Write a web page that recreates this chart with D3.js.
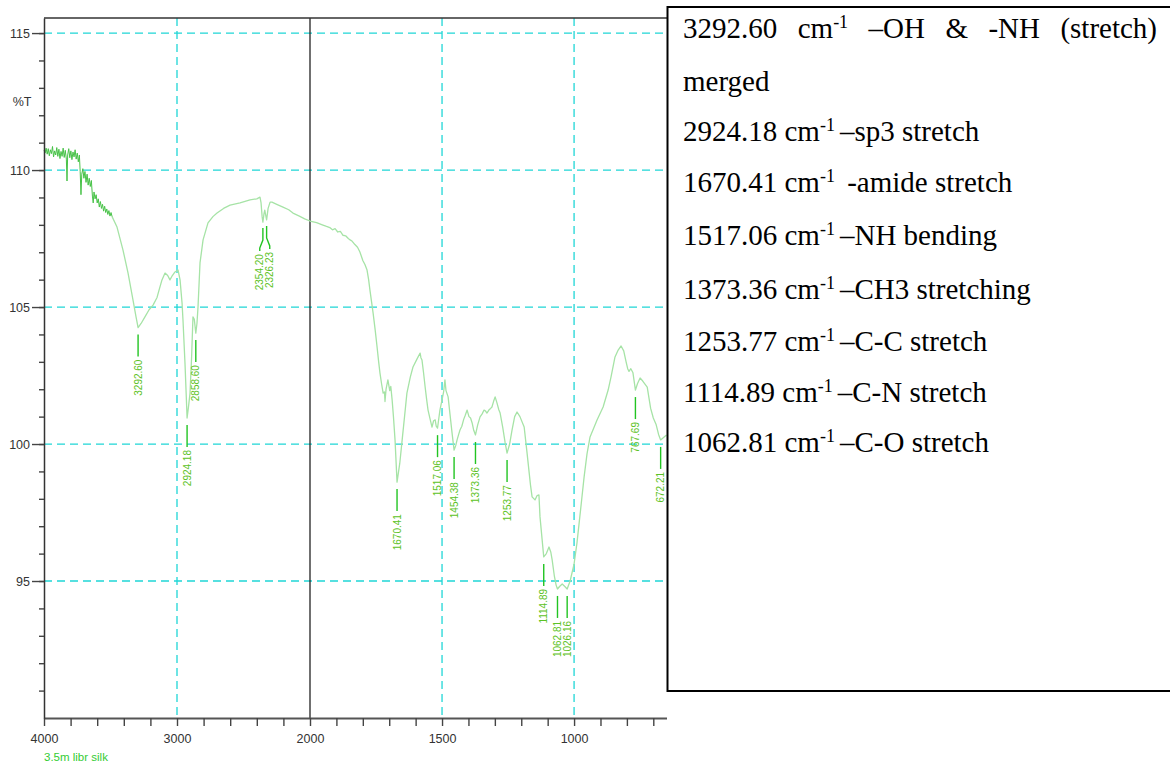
<!DOCTYPE html>
<html>
<head>
<meta charset="utf-8">
<script src="https://cdn.jsdelivr.net/npm/d3@7"></script>
<style>
  html, body { margin: 0; padding: 0; background: #ffffff; }
  svg { display: block; }
</style>
</head>
<body>
<svg id="chart" width="1170" height="766"></svg>
<script>
// ---------------------------------------------------------------
// FTIR spectrum of 3.5m libr silk: %T versus wavenumber (cm-1)
// ---------------------------------------------------------------

// Wavenumber axis: 4000 → 2000 and 2000 → 650 use different scales
const wavenumberBreaks = [4000, 2000, 650];
const transmittanceDomain = [90, 115.55];

const xTickValues = d3.range(4000, 1999, -200).concat(d3.range(1900, 699, -100));
const xTickLabels = [4000, 3000, 2000, 1500, 1000];
const yMajorTicks = [95, 100, 105, 110, 115];
const yMinorTicks = d3.range(91, 116);
const gridWavenumbers = [3000, 1500, 1000];
const gridTransmittance = [95, 100, 105, 110, 115];

// Noisy high-wavenumber region [wavenumber, %T]
const noisyTrace = [
  [4000,110.72],[3992,110.62],[3984,110.80],[3976,110.58],[3968,110.78],[3960,110.52],
  [3952,110.74],[3944,110.60],[3936,110.86],[3928,110.48],[3920,110.70],[3912,110.55],
  [3904,110.82],[3896,110.50],[3888,110.76],[3880,110.42],[3872,110.68],[3864,110.50],
  [3856,110.80],[3848,110.46],[3840,110.72],[3832,110.40],[3827,109.60],[3822,110.55],
  [3814,110.78],[3806,110.45],[3798,110.70],[3790,110.38],[3782,110.66],[3774,110.48],
  [3766,110.74],[3758,110.40],[3750,110.62],[3742,110.30],[3734,110.55],[3728,109.95],
  [3722,109.10],[3716,109.85],[3708,110.05],[3700,109.70],[3692,109.95],[3684,109.55],
  [3676,109.85],[3668,109.45],[3660,109.70],[3652,109.40],[3644,109.62],[3636,109.05],
  [3630,108.80],[3624,109.20],[3616,108.95],[3608,109.10],[3600,108.80],[3592,108.95],
  [3584,108.65],[3576,108.85],[3568,108.60],[3560,108.75],[3552,108.50],[3544,108.68],
  [3536,108.45],[3528,108.58],[3520,108.38],[3512,108.52],[3504,108.32],[3496,108.45],
  [3488,108.30]
];

// Remainder of the spectrum [wavenumber, %T]
const mainTrace = [
  [3488,108.30],[3451,107.92],[3406,107.08],[3368,106.24],[3331,105.26],[3308,104.64],
  [3292.6,104.25],[3270,104.40],[3241,104.64],[3210,104.90],[3180,105.07],[3150,105.35],
  [3135,105.62],[3113,105.99],[3090,106.24],[3070,106.15],[3053,105.99],[3035,106.15],
  [3015,106.28],[2992,106.35],[2977,105.99],[2962,105.15],[2955,104.53],[2940,102.96],
  [2930,101.70],[2924.18,100.95],[2915,101.30],[2902,101.86],[2890,103.20],[2880,104.64],
  [2870,104.55],[2858.6,104.05],[2850,104.40],[2842,105.00],[2827,106.61],[2804,107.45],
  [2767,108.07],[2730,108.30],[2699,108.43],[2650,108.60],[2601,108.72],[2526,108.80],
  [2451,108.91],[2400,108.95],[2376,109.01],[2368,108.80],[2360,108.30],[2354.2,108.10],
  [2346,108.40],[2340,108.54],[2333,108.35],[2326.23,108.18],[2315,108.60],[2300,108.83],
  [2286,108.83],[2250,108.75],[2203,108.65],[2160,108.55],[2128,108.43],[2080,108.32],
  [2040,108.22],[2000,108.14],[1975,108.08],[1951,107.99],[1940,107.95],[1925,107.90],
  [1915,107.82],[1905,107.86],[1895,107.74],[1885,107.76],[1875,107.62],[1865,107.60],
  [1855,107.50],[1848,107.45],[1840,107.40],[1830,107.28],[1820,107.18],[1811,107.01],
  [1800,106.70],[1792,106.55],[1784,106.35],[1778,106.00],[1773,105.62],[1767,105.20],
  [1761,104.78],[1753,104.15],[1746,103.54],[1740,103.00],[1735,102.59],[1729,102.20],
  [1723,101.86],[1718,101.90],[1716,101.55],[1712,102.00],[1705,102.34],[1698,101.95],
  [1694,102.10],[1689,101.61],[1684,101.00],[1678,100.15],[1670.41,98.61],[1660,99.30],
  [1651,100.15],[1642,101.00],[1633,101.86],[1620,102.45],[1610,102.81],[1595,103.10],
  [1583,103.32],[1580,103.15],[1576,103.07],[1570,102.60],[1564,102.08],[1558,101.60],
  [1553,101.24],[1545,100.90],[1538,100.62],[1532,100.85],[1526,100.88],[1522,100.65],
  [1517.06,100.58],[1512,100.95],[1508,101.24],[1500,101.61],[1494,101.90],[1489,102.34],
  [1485,101.95],[1477,101.72],[1470,101.10],[1462,100.40],[1454.38,99.78],[1448,99.95],
  [1443,100.15],[1437,100.35],[1432,100.51],[1425,100.65],[1418,100.90],[1412,101.05],
  [1405,101.24],[1398,101.00],[1392,100.95],[1386,100.77],[1380,100.50],[1373.36,100.33],
  [1365,100.70],[1356,100.99],[1348,101.10],[1341,101.24],[1335,101.20],[1330,101.13],
  [1322,101.25],[1316,101.30],[1311,101.35],[1305,101.55],[1299,101.72],[1292,101.50],
  [1285,101.25],[1280,101.13],[1270,100.60],[1261,100.04],[1253.77,99.67],[1244,100.00],
  [1235,100.51],[1225,101.00],[1216,101.17],[1205,101.00],[1189,100.62],[1178,99.67],
  [1165,98.50],[1159,98.07],[1148,97.96],[1140,98.12],[1133,98.14],[1129,97.34],
  [1118,96.20],[1114.89,95.88],[1105,96.00],[1095,96.24],[1088,96.05],[1083,95.77],
  [1075,95.20],[1068,94.85],[1062.81,94.71],[1055,94.80],[1045,94.89],[1035,94.80],
  [1026.16,94.71],[1015,95.00],[1000,95.62],[989,96.39],[973,97.81],[962,98.80],
  [951,99.64],[939.5,100.26],[913,100.88],[890,101.35],[871,101.97],[860,102.45],
  [845,103.18],[833,103.43],[822,103.58],[812,103.40],[803,103.00],[797,102.75],
  [792,102.65],[785,102.75],[777,102.60],[767.69,101.97],[760,102.20],[750,102.41],
  [740,102.30],[723,102.08],[710,101.30],[700,100.95],[689,100.70],[680,100.35],
  [672.21,100.15],[660,100.25],[650,100.33]
];

// Picked peaks: wavenumber and %T at the band minimum
const peakWavenumbers = [3292.60, 2924.18, 2858.60, 2354.20, 2326.23, 1670.41, 1517.06,
  1454.38, 1373.36, 1253.77, 1114.89, 1062.81, 1026.16, 767.69, 672.21];
const peakTransmittance = [104.25, 100.95, 104.05, 108.10, 108.18, 98.61, 100.58,
  99.78, 100.33, 99.67, 95.88, 94.71, 94.71, 101.97, 100.15];

// Band assignments listed beside the spectrum
const assignments = [
  { wn: "2924.18", text: "–sp3 stretch" },
  { wn: "1670.41", text: " -amide stretch" },
  { wn: "1517.06", text: "–NH bending" },
  { wn: "1373.36", text: "–CH3 stretching" },
  { wn: "1253.77", text: "–C-C stretch" },
  { wn: "1114.89", text: "–C-N stretch" },
  { wn: "1062.81", text: "–C-O stretch" }
];

// ---------------------------------------------------------------
const svg = d3.select("#chart");
const plot = { left: 44, right: 666.5, top: 18, bottom: 718 };

const x = d3.scaleLinear()
  .domain(wavenumberBreaks)
  .range([plot.left, 310, plot.right]);
const y = d3.scaleLinear()
  .domain(transmittanceDomain)
  .range([plot.bottom, plot.top]);

const GRID = "#1fd6d6";
const AXIS = "#444";
const sansFont = "'Liberation Sans', Arial, sans-serif";

// Grid lines
const grid = svg.append("g").attr("stroke", GRID).attr("stroke-width", 1.3)
  .attr("stroke-dasharray", "8,5");
grid.selectAll("line.gx").data(gridWavenumbers).join("line")
  .attr("x1", d => x(d)).attr("x2", d => x(d))
  .attr("y1", plot.top).attr("y2", plot.bottom);
grid.selectAll("line.gy").data(gridTransmittance).join("line")
  .attr("x1", plot.left).attr("x2", plot.right)
  .attr("y1", d => y(d)).attr("y2", d => y(d));

// Scale-change marker at 2000 cm-1
svg.append("line")
  .attr("x1", x(2000)).attr("x2", x(2000))
  .attr("y1", plot.top).attr("y2", plot.bottom)
  .attr("stroke", "#222").attr("stroke-width", 1.3);

// Top frame
svg.append("line")
  .attr("x1", plot.left).attr("x2", plot.right + 1)
  .attr("y1", plot.top).attr("y2", plot.top)
  .attr("stroke", "#333").attr("stroke-width", 1.5);

// Spectrum
const line = d3.line().x(d => x(d[0])).y(d => y(d[1])).curve(d3.curveLinear);
svg.append("path").datum(mainTrace)
  .attr("d", line).attr("fill", "none")
  .attr("stroke", "#a6e3a6").attr("stroke-width", 1.3).attr("stroke-linejoin", "round");
svg.append("path").datum(noisyTrace)
  .attr("d", line).attr("fill", "none")
  .attr("stroke", "#47c247").attr("stroke-width", 1).attr("stroke-linejoin", "round");

// Axes
const xAxis = d3.axisBottom(x)
  .tickValues(xTickValues)
  .tickSize(8).tickSizeOuter(0).tickPadding(8)
  .tickFormat(d => xTickLabels.includes(d) ? d : "");
const gx = svg.append("g").attr("transform", `translate(0,${plot.bottom})`).call(xAxis);
gx.select(".domain").attr("stroke", "#555").attr("stroke-width", 2.2);
gx.selectAll(".tick line").attr("stroke", AXIS).attr("stroke-width", 1.4);
gx.selectAll(".tick text").attr("fill", "#333")
  .style("font", `12.5px ${sansFont}`);

const yMinor = d3.axisLeft(y).tickValues(yMinorTicks).tickSize(5).tickSizeOuter(0).tickFormat("");
const gyMinor = svg.append("g").attr("transform", `translate(${plot.left},0)`).call(yMinor);
gyMinor.select(".domain").attr("stroke", "#333").attr("stroke-width", 1.5);
gyMinor.selectAll(".tick line").attr("stroke", AXIS).attr("stroke-width", 1.4);

const yMajor = d3.axisLeft(y).tickValues(yMajorTicks).tickSize(12).tickSizeOuter(0).tickPadding(2);
const gyMajor = svg.append("g").attr("transform", `translate(${plot.left},0)`).call(yMajor);
gyMajor.select(".domain").remove();
gyMajor.selectAll(".tick line").attr("stroke", AXIS).attr("stroke-width", 1.4);
gyMajor.selectAll(".tick text").attr("fill", "#333")
  .style("font", `12.5px ${sansFont}`);

svg.append("text").attr("x", 22).attr("y", 106).attr("text-anchor", "middle")
  .attr("fill", "#333").style("font", `12.5px ${sansFont}`).text("%T");

svg.append("text").attr("x", 44).attr("y", 761)
  .attr("fill", "#33cc33").style("font", `11.5px ${sansFont}`).text("3.5m libr silk");

// Peak markers: leader below each minimum, value label below the leader
const peaks = peakWavenumbers.map((wn, i) => ({
  wn, t: peakTransmittance[i], px: x(wn), lx: x(wn)
}));
// spread labels of bands that sit too close together
for (let i = 0; i < peaks.length - 1; i++) {
  const a = peaks[i], b = peaks[i + 1];
  if (Math.abs(b.px - a.px) < 8) {
    const mid = (a.px + b.px) / 2;
    a.lx = mid - 5; b.lx = mid + 5;
  }
}
const markerG = svg.append("g");
peaks.forEach(p => {
  const y0 = y(p.t);
  if (Math.abs(p.lx - p.px) < 0.5) {
    markerG.append("line")
      .attr("x1", p.px).attr("x2", p.px)
      .attr("y1", y0 + 7).attr("y2", y0 + 29)
      .attr("stroke", "#22c422").attr("stroke-width", 1.4);
  } else {
    markerG.append("polyline")
      .attr("points", [[p.px, y0 + 6], [p.px, y0 + 18], [p.lx, y0 + 26], [p.lx, y0 + 29]]
        .map(q => q.join(",")).join(" "))
      .attr("fill", "none").attr("stroke", "#22c422").attr("stroke-width", 1.4);
  }
  markerG.append("text")
    .attr("transform", `translate(${p.lx + 3.6},${y0 + 32}) rotate(-90)`)
    .attr("text-anchor", "end")
    .attr("fill", "#5cc225")
    .style("font", `10px ${sansFont}`)
    .text(d3.format(".2f")(p.wn));
});

// ---------------------------------------------------------------
// Assignment panel
const panel = svg.append("g");
panel.append("rect")
  .attr("x", 667.5).attr("y", 7).attr("width", 520).attr("height", 684)
  .attr("fill", "#fff").attr("stroke", "#000").attr("stroke-width", 2);

const serif = "'Liberation Serif', 'Times New Roman', serif";
const FS = 29, SUP = 18, RISE = 10;
const textX = 683;

// first line, justified across the panel
const firstWords = [["3292.60"], ["cm", "-1"], ["–OH"], ["&"], ["-NH"], ["(stretch)"]];
const firstRight = 1157;
const firstBase = 38;
const wordNodes = firstWords.map(w => {
  const t = panel.append("text").attr("y", firstBase)
    .attr("fill", "#000").style("font", `${FS}px ${serif}`);
  t.append("tspan").text(w[0]);
  if (w[1]) t.append("tspan").attr("dy", -RISE).style("font-size", `${SUP}px`).text(w[1]);
  return t;
});
const widths = wordNodes.map(t => t.node().getComputedTextLength());
const gap = (firstRight - textX - d3.sum(widths)) / (wordNodes.length - 1);
let cx = textX;
wordNodes.forEach((t, i) => { t.attr("x", cx); cx += widths[i] + gap; });

panel.append("text").attr("x", textX).attr("y", 91)
  .attr("fill", "#000").style("font", `${FS}px ${serif}`).text("merged");

const baselines = [141, 192, 245, 299, 351, 402, 452];
assignments.forEach((a, i) => {
  const t = panel.append("text").attr("x", textX).attr("y", baselines[i])
    .attr("fill", "#000").style("font", `${FS}px ${serif}`);
  t.append("tspan").text(`${a.wn} cm`);
  t.append("tspan").attr("dy", -RISE).style("font-size", `${SUP}px`).text("-1");
  t.append("tspan").attr("dy", RISE).attr("dx", 5).style("font-size", `${FS}px`)
    .attr("xml:space", "preserve").style("white-space", "pre").text(a.text);
});
</script>
</body>
</html>
